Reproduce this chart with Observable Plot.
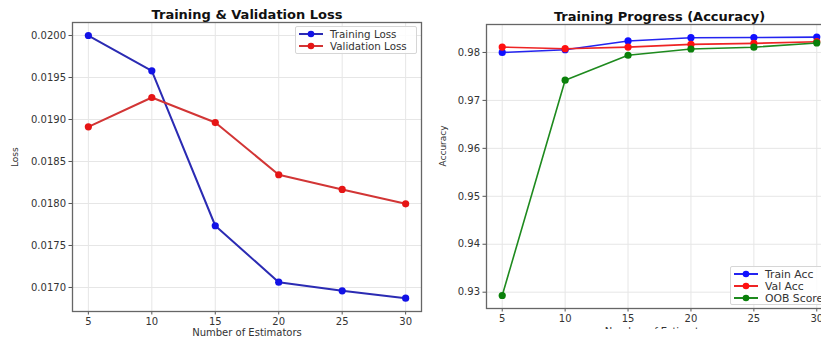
<!DOCTYPE html>
<html><head><meta charset="utf-8">
<script src="https://cdn.jsdelivr.net/npm/d3@7"></script>
<script src="https://cdn.jsdelivr.net/npm/@observablehq/plot@0.6"></script>
<style>
body{margin:0;background:#fff;}
#wrap{position:relative;width:821px;height:339px;overflow:hidden;font-family:"DejaVu Sans",sans-serif;background:#fff;}
#left{position:absolute;left:0;top:0;width:430px;height:339px;}
#right{position:absolute;left:430px;top:0;height:329px;width:407px;overflow:hidden;}
#left svg,#right svg{max-width:none !important;}
.legend{position:absolute;background:rgba(255,255,255,0.85);border:1px solid #d6d6d6;border-radius:2px;box-sizing:border-box;}
.legend svg{display:block;}
</style></head><body>
<div id="wrap"><div id="left"></div><div id="right"></div></div>
<script>
// ---- data ----
const estimators = [5, 10, 15, 20, 25, 30];
const xTicks = [5, 10, 15, 20, 25, 30];
const trainingLoss = [0.02000, 0.019580, 0.017735, 0.017063, 0.016960, 0.016873];
const validationLoss = [0.018913, 0.019262, 0.018964, 0.018342, 0.018167, 0.017996];
const lossTicks = [0.0170, 0.0175, 0.0180, 0.0185, 0.0190, 0.0195, 0.0200];
const trainAcc = [0.98000, 0.98056, 0.98240, 0.98308, 0.98312, 0.98320];
const valAcc = [0.98112, 0.98078, 0.98112, 0.98168, 0.98190, 0.98224];
const oobScore = [0.92931, 0.97422, 0.97942, 0.98072, 0.98110, 0.98198];
const accTicks = [0.93, 0.94, 0.95, 0.96, 0.97, 0.98];
const lossSeries = [
  {name: "Training Loss", values: trainingLoss, line: "#2b2bb3", dot: "#1212e6"},
  {name: "Validation Loss", values: validationLoss, line: "#d23535", dot: "#e61515"}
];
const accSeries = [
  {name: "Train Acc", values: trainAcc, line: "#2424f0", dot: "#1010ff"},
  {name: "Val Acc", values: valAcc, line: "#ee2424", dot: "#ff1010"},
  {name: "OOB Score", values: oobScore, line: "#1e8a1e", dot: "#0a800a"}
];

const FONT = "DejaVu Sans";
function seriesMarks(series, lw) {
  const marks = [];
  for (const s of series) {
    const rows = estimators.map((e, i) => ({e, v: s.values[i]}));
    marks.push(Plot.line(rows, {x: "e", y: "v", stroke: s.line, strokeWidth: lw}));
    marks.push(Plot.dot(rows, {x: "e", y: "v", fill: s.dot, r: 3.6, stroke: "none"}));
  }
  return marks;
}
function panel(o) {
  return Plot.plot({
    width: o.width, height: 339,
    marginLeft: o.ml, marginRight: o.mr, marginTop: o.mt, marginBottom: 339 - o.fb,
    style: {fontFamily: FONT, fontSize: "10px", color: "#333", background: "transparent", overflow: "visible"},
    x: {domain: [3.75, 31.25]},
    y: {domain: o.ydomain},
    marks: [
      Plot.gridX(xTicks, {stroke: "#e6e6e6", strokeOpacity: 1}),
      Plot.gridY(o.yticks, {stroke: "#e6e6e6", strokeOpacity: 1}),
      Plot.axisX(xTicks, {tickSize: 3.5, tickPadding: 3, label: null, stroke: "#555"}),
      Plot.axisY(o.yticks, {tickSize: 3.5, tickPadding: 3, label: null, tickFormat: o.fmt, stroke: "#555"}),
      ...seriesMarks(o.series, o.lw),
      Plot.frame({stroke: "#666", strokeWidth: 1.3}),
      Plot.text([o.title], {frameAnchor: "top", lineAnchor: "middle", dy: -8, fontWeight: "bold", fontSize: o.tsize, fill: "#111"}),
      Plot.text([o.xlabel], {frameAnchor: "bottom", lineAnchor: "middle", dy: o.xdy, fontSize: 10, fill: "#333"}),
      Plot.text([o.ylabel], {frameAnchor: "left", lineAnchor: "middle", dx: o.ydx, rotate: -90, fontSize: 9, fill: "#333"})
    ]
  });
}
document.getElementById("left").append(panel({
  width: 430, ml: 72, mr: 9, mt: 22, fb: 311,
  ydomain: [0.016714, 0.020155], yticks: lossTicks, fmt: d3.format(".4f"),
  series: lossSeries, lw: 2, title: "Training & Validation Loss", tsize: 13,
  xlabel: "Number of Estimators", xdy: 21, ylabel: "Loss", ydx: -57
}));
document.getElementById("right").append(panel({
  width: 407, ml: 56, mr: 5, mt: 24, fb: 308,
  ydomain: [0.9266, 0.98583], yticks: accTicks, fmt: d3.format(".2f"),
  series: accSeries, lw: 1.6, title: "Training Progress (Accuracy)", tsize: 13,
  xlabel: "Number of Estimators", xdy: 23, ylabel: "Accuracy", ydx: -43
}));

function legend(series, left, top, w, h, rowH, fs) {
  const div = document.createElement("div");
  div.className = "legend";
  Object.assign(div.style, {left: left + "px", top: top + "px", width: w + "px", height: h + "px"});
  const svg = d3.create("svg").attr("width", w).attr("height", h).style("font-family", FONT);
  series.forEach((s, i) => {
    const y = 7 + i * rowH;
    svg.append("line").attr("x1", 3).attr("x2", 27).attr("y1", y).attr("y2", y).attr("stroke", s.line).attr("stroke-width", 2);
    svg.append("circle").attr("cx", 15).attr("cy", y).attr("r", 3.3).attr("fill", s.dot);
    svg.append("text").attr("x", 34).attr("y", y).attr("dy", "0.35em").attr("font-size", fs).attr("fill", "#333").text(s.name);
  });
  div.append(svg.node());
  document.getElementById("wrap").append(div);
}
legend(lossSeries, 295, 26, 122, 28, 12, 10.3);
legend(accSeries, 730, 266, 110, 39, 12, 10.8);
</script>
</body></html>
